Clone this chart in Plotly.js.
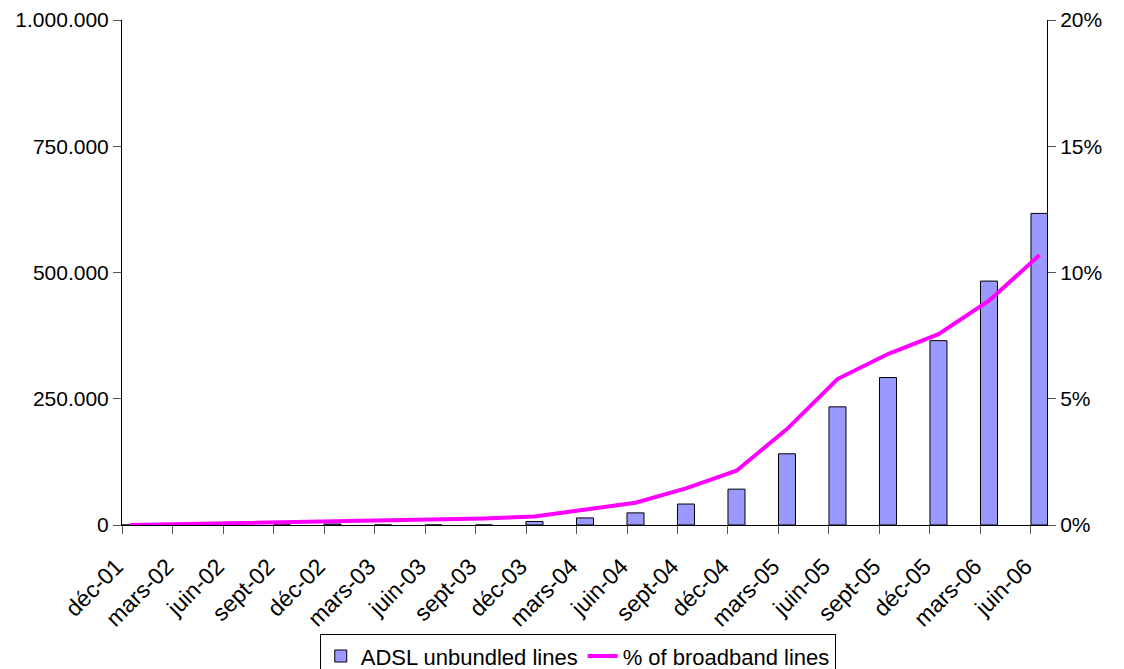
<!DOCTYPE html>
<html><head><meta charset="utf-8">
<script src="https://cdn.plot.ly/plotly-3.0.1.min.js"></script>
<style>html,body{margin:0;padding:0;background:#fff}#chart{width:1124px;height:669px}</style>
</head><body><div id="chart"></div>
<script>
const categories = ["déc-01","mars-02","juin-02","sept-02","déc-02","mars-03","juin-03","sept-03","déc-03","mars-04","juin-04","sept-04","déc-04","mars-05","juin-05","sept-05","déc-05","mars-06","juin-06"];
const adslLines = [0,0,0,0,2000,0,0,0,7000,14000,24000,41500,71000,141000,234000,292000,365000,483000,617000];
const broadbandPct = [0,0.04,0.07,0.10,0.13,0.17,0.21,0.26,0.34,0.62,0.88,1.45,2.15,3.8,5.78,6.77,7.56,8.88,10.69];
const leftTicks = [0,250000,500000,750000,1000000];
const rightTicks = [0,5,10,15,20];
const rightTickText = ["0%","5%","10%","15%","20%"];

const idx = categories.map((c,i)=>i);
const off = 0.168;
const font = {family:'"Liberation Sans", Arial, sans-serif', color:'#000'};

const traces = [
  {type:'bar', name:'ADSL unbundled lines', x:idx, y:adslLines, width:0.337,
   marker:{color:'#9999FF', line:{color:'#000', width:1}}, yaxis:'y', xaxis:'x'},
  {type:'scatter', mode:'lines', name:'% of broadband lines', x:idx, y:broadbandPct,
   line:{color:'#FF00FF', width:4}, yaxis:'y2', xaxis:'x'},
  {type:'scatter', mode:'none', x:[0], y:[0], xaxis:'x2', yaxis:'y', showlegend:false, hoverinfo:'skip'}
];

const layout = {
  width:1124, height:669,
  margin:{l:122, r:77, t:20, b:144},
  paper_bgcolor:'#fff', plot_bgcolor:'#fff',
  separators:',.',
  font: Object.assign({size:21}, font),
  showlegend:true,
  bargap:0,
  xaxis:{range:[-off, 18.149], tickmode:'array', tickvals:idx, ticktext:categories, automargin:false,
         tickangle:-45, ticks:'', ticklabelstandoff:18, ticklabelshift:-14, showgrid:false, zeroline:false, showline:true, linecolor:'#000', linewidth:1,
         tickfont:Object.assign({size:23}, font)},
  xaxis2:{overlaying:'x', matches:'x', tickmode:'array', tickvals:idx.map(i=>i-off), ticktext:idx.map(()=>''),
          ticks:'outside', ticklen:8, tickcolor:'#555', showgrid:false, zeroline:false, showline:false, side:'bottom', showticklabels:false},
  yaxis:{range:[0,1000000], tickmode:'array', tickvals:leftTicks, tickformat:',d', automargin:false,
         ticks:'outside', ticklen:8, tickcolor:'#555', showgrid:false, zeroline:false, showline:true, linecolor:'#000', linewidth:1,
         tickfont:Object.assign({size:21}, font)},
  yaxis2:{range:[0,20], overlaying:'y', side:'right', tickmode:'array', tickvals:rightTicks, ticktext:rightTickText, automargin:false,
          ticks:'outside', ticklen:8, tickcolor:'#555', showgrid:false, zeroline:false, showline:true, linecolor:'#000', linewidth:1,
          tickfont:Object.assign({size:21}, font)},
  legend:{orientation:'h', x:0.514, xref:'container', xanchor:'center', y:0.052, yref:'container', yanchor:'top',
          bordercolor:'#000', borderwidth:1, bgcolor:'#fff', font:Object.assign({size:22}, font),
          traceorder:'normal', itemwidth:30, tracegroupgap:0}
};
Plotly.newPlot('chart', traces, layout, {displayModeBar:false, staticPlot:true});
</script></body></html>
